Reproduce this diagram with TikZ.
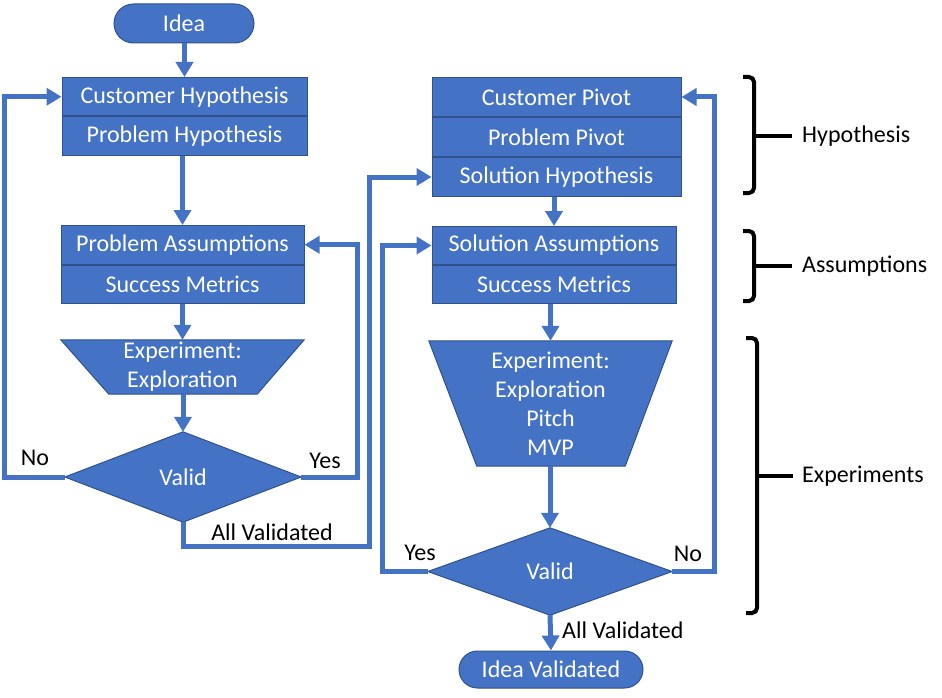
\documentclass[tikz,border=0pt]{standalone}
\usepackage{fontspec}
\setmainfont{Carlito}
\usetikzlibrary{arrows.meta,calc,backgrounds}
\definecolor{fb}{HTML}{4472C4}
\definecolor{eb}{HTML}{2F528F}
\begin{document}
\begin{tikzpicture}[x=1pt,y=-1pt,
  font=\fontsize{24}{29}\selectfont,
  box/.style={draw=eb, line width=1pt, fill=fb, text=white, minimum height=38.5pt, inner sep=0pt, anchor=north},
  term/.style={draw=eb, line width=1pt, fill=fb, text=white, inner sep=0pt},
  shp/.style={text=white, inner sep=0pt, align=center},
  shpfill/.style={fill=fb, draw=eb, line width=1pt},
  conn/.style={draw=fb, line width=5pt, line join=miter, -{Triangle[width=17pt,length=15pt]}},
  lbl/.style={text=black, inner sep=0pt},
  brk/.style={draw=black, line width=4pt, rounded corners=5pt}
]
\useasboundingbox (0,0) rectangle (942,698);

% terminals
\node[term, minimum width=140, minimum height=39, rounded corners=19.5pt] (idea) at (184,23.5) {Idea};
\node[term, minimum width=184, minimum height=37, rounded corners=18.5pt] (iv) at (551,669.5) {Idea Validated};

% left boxes
\node[box, minimum width=245] (b1a) at (184.5,77) {Customer Hypothesis};
\node[box, minimum width=245] (b1b) at (b1a.south) {Problem Hypothesis};
\node[box, minimum width=243] (b2a) at (182.5,225) {Problem Assumptions};
\node[box, minimum width=243] (b2b) at (b2a.south) {Success Metrics};

% right boxes
\node[box, minimum width=249, minimum height=39] (b3a) at (556.5,77) {Customer Pivot};
\node[box, minimum width=249, minimum height=39] (b3b) at (b3a.south) {Problem Pivot};
\node[box, minimum width=249, minimum height=39] (b3c) at (b3b.south) {Solution Hypothesis};
\node[box, minimum width=244, minimum height=38] (b4a) at (554,226) {Solution Assumptions};
\node[box, minimum width=244, minimum height=38] (b4b) at (b4a.south) {Success Metrics};

% trapezoids
\node[shp, minimum width=243, minimum height=54] (t1) at (182.5,367) {Experiment:\\Exploration};
\node[shp, minimum width=243, minimum height=125] (t2) at (550.5,403.5) {Experiment:\\Exploration\\Pitch\\MVP};

% diamonds
\node[shp, minimum width=236, minimum height=90] (d1) at (183,477) {Valid};
\node[shp, minimum width=244, minimum height=87] (d2) at (550,571.5) {Valid};

\begin{scope}[on background layer]
  \path[shpfill] (t1.north west) -- (t1.north east) -- ([xshift=-47pt]t1.south east) -- ([xshift=48pt]t1.south west) -- cycle;
  \path[shpfill] (t2.north west) -- (t2.north east) -- ([xshift=-47pt]t2.south east) -- ([xshift=48pt]t2.south west) -- cycle;
  \path[shpfill] (d1.north) -- (d1.east) -- (d1.south) -- (d1.west) -- cycle;
  \path[shpfill] (d2.north) -- (d2.east) -- (d2.south) -- (d2.west) -- cycle;
\end{scope}

% straight connectors
\draw[conn] (b1a.north |- idea.south) -- (b1a.north);
\draw[conn] (b2a.north |- b1b.south) -- (b2a.north);
\draw[conn] (b2b.south) -- (t1.north);
\draw[conn] (t1.south -| d1.north) -- (d1.north);
\draw[conn] (b4a.north |- b3c.south) -- (b4a.north);
\draw[conn] (t2.north |- b4b.south) -- (t2.north);
\draw[conn] (d2.north |- t2.south) -- (d2.north);
\draw[conn] (d2.south) -- (iv.north);

% loops
\draw[conn] (d1.west) -- ++(-60,0) |- (b1a.west);
\draw[conn] (d1.east) -- ++(56,0) |- (b2a.east);
\draw[conn] (d1.south) -- ++(0,24) -- ++(186,0) |- (b3c.west);
\draw[conn] (d2.west) -- ++(-45,0) |- (b4a.west);
\draw[conn] (d2.east) -- ++(42,0) |- (b3a.east);

% labels
\node[lbl] (lno1) at (35,458) {No};
\node[lbl] (lyes1) at (325,461) {Yes};
\node[lbl] (lav1) at (272,532) {All Validated};
\node[lbl] (lyes2) at (420,553) {Yes};
\node[lbl] (lno2) at (688,554) {No};
\node[lbl, anchor=west] (lav2) at (562,630) {All Validated};

% brackets
\draw[brk] (743,77) -- (754,77) -- (754,193) -- (743,193);
\draw[draw=black, line width=4pt] (754,136) -- (792,136);
\draw[brk] (743,231) -- (754,231) -- (754,301) -- (743,301);
\draw[draw=black, line width=4pt] (754,266) -- (792,266);
\draw[brk] (746,338) -- (757,338) -- (757,613) -- (746,613);
\draw[draw=black, line width=4pt] (757,476) -- (793,476);
\node[lbl, anchor=west] (hyp) at (802,136) {Hypothesis};
\node[lbl, anchor=west] (ass) at (802,266) {Assumptions};
\node[lbl, anchor=west] (exp) at (802,476) {Experiments};
\end{tikzpicture}
\end{document}
